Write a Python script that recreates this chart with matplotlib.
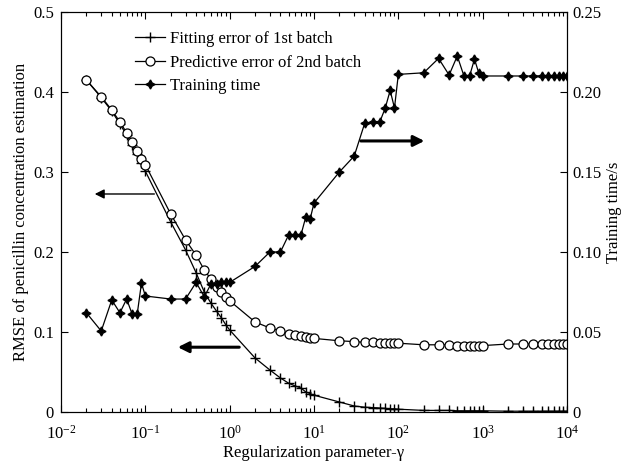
import matplotlib
matplotlib.use("Agg")
import matplotlib.pyplot as plt
from matplotlib.ticker import FixedLocator, FuncFormatter, LogLocator, NullFormatter

plt.rcParams["font.family"] = ["Liberation Serif", "DejaVu Serif"]
plt.rcParams["mathtext.fontset"] = "stix"

# regularization parameter grid: 2..9 x 1e-2, then 1..9 x 10^k, then 1e4
gamma = ([m * 0.01 for m in range(2, 10)] + [m * 0.1 for m in range(1, 10)]
         + [m * 1.0 for m in range(1, 10)] + [m * 10.0 for m in range(1, 10)]
         + [m * 100.0 for m in range(1, 10)] + [m * 1000.0 for m in range(1, 10)]
         + [10000.0])

fit_err = [0.415, 0.393, 0.376, 0.360, 0.346, 0.334, 0.322, 0.311,
           0.301, 0.2375, 0.2025, 0.174, 0.150, 0.136, 0.126, 0.1175, 0.109,
           0.1025, 0.0675, 0.0525, 0.0425, 0.036, 0.0325, 0.030, 0.025, 0.023,
           0.021, 0.0125, 0.0075, 0.006, 0.0055, 0.005, 0.0045, 0.004, 0.004,
           0.0035, 0.002, 0.002, 0.002, 0.0015, 0.0015, 0.0015, 0.0015, 0.0015,
           0.0015, 0.001, 0.001, 0.001, 0.001, 0.001, 0.001, 0.001, 0.001,
           0.001]

pred_err = [0.415, 0.394, 0.3775, 0.3625, 0.349, 0.338, 0.326, 0.316,
            0.309, 0.2475, 0.215, 0.196, 0.1775, 0.166, 0.156, 0.150, 0.144,
            0.139, 0.1125, 0.105, 0.1015, 0.098, 0.096, 0.095, 0.094, 0.093,
            0.092, 0.089, 0.088, 0.087, 0.087, 0.086, 0.086, 0.086, 0.086,
            0.086, 0.084, 0.084, 0.084, 0.083, 0.083, 0.083, 0.083, 0.083,
            0.083, 0.085, 0.085, 0.085, 0.085, 0.085, 0.085, 0.085, 0.085,
            0.085]

train_time = [0.062, 0.0506, 0.070, 0.062, 0.0706, 0.061, 0.061, 0.0806,
              0.0725, 0.0706, 0.0706, 0.081, 0.072, 0.080, 0.080, 0.081, 0.081,
              0.081, 0.091, 0.100, 0.100, 0.1106, 0.1106, 0.1106, 0.122, 0.1206,
              0.1306, 0.150, 0.160, 0.1806, 0.181, 0.181, 0.190, 0.201, 0.190,
              0.211, 0.212, 0.221, 0.2106, 0.2225, 0.210, 0.210, 0.2206, 0.2117,
              0.210, 0.210, 0.210, 0.210, 0.210, 0.210, 0.210, 0.210, 0.210,
              0.210]

fig = plt.figure(figsize=(6.25, 4.7), dpi=100)
ax = fig.add_axes([0.0976, 0.1234, 0.8096, 0.8511])
ax2 = ax.twinx()

l1, = ax.plot(gamma, fit_err, color="black", lw=0.9, marker="+", ms=7, mew=1.0,
              label="Fitting error of 1st batch")
l2, = ax.plot(gamma, pred_err, color="black", lw=0.9, marker="o", ms=6.5, mew=0.9,
              mfc="white", label="Predictive error of 2nd batch")
l3, = ax2.plot(gamma, train_time, color="black", lw=0.9, marker=(4, 1, 0), ms=6.5,
               label="Training time")

ax.set_xscale("log")
ax.set_xlim(1e-2, 1e4)
ax.set_ylim(0, 0.5)
ax2.set_ylim(0, 0.25)

ax.xaxis.set_major_locator(LogLocator(base=10, numticks=10))
ax.xaxis.set_minor_locator(LogLocator(base=10, subs=range(2, 10), numticks=20))
ax.xaxis.set_minor_formatter(NullFormatter())
ax.yaxis.set_major_locator(FixedLocator([0, 0.1, 0.2, 0.3, 0.4, 0.5]))
ax2.yaxis.set_major_locator(FixedLocator([0, 0.05, 0.10, 0.15, 0.20, 0.25]))
ax.yaxis.set_major_formatter(FuncFormatter(lambda v, p: "0" if v == 0 else "%.1f" % v))
ax2.yaxis.set_major_formatter(FuncFormatter(lambda v, p: "0" if v == 0 else "%.2f" % v))

ax.tick_params(axis="x", which="both", direction="in", top=True, labelsize=12, pad=9)
ax.tick_params(axis="x", which="major", length=5, width=0.8)
ax.tick_params(axis="x", which="minor", length=3, width=0.8)
ax.tick_params(axis="y", direction="in", labelsize=12, length=5, pad=5)
ax2.tick_params(axis="y", direction="in", labelsize=12, length=5, pad=4)

ax.set_xlabel("Regularization parameter-γ", fontsize=12, labelpad=2)
ax.set_ylabel("RMSE of penicillin concentration estimation", fontsize=12, labelpad=3)
ax2.set_ylabel("Training time/s", fontsize=12, labelpad=3)

ax.legend(handles=[l1, l2, l3], loc="upper left", bbox_to_anchor=(0.12, 0.985),
          frameon=False, fontsize=12, handlelength=1.8, handletextpad=0.3,
          labelspacing=0.45, borderpad=0.3)

arrow_thin = dict(arrowstyle="-|>", color="black", lw=1.0, mutation_scale=14)
arrow_thick = dict(arrowstyle="-|>", color="black", lw=2.2, mutation_scale=16)
ax.annotate("", xy=(0.0233, 0.2725), xytext=(0.138, 0.2725), arrowprops=arrow_thin)
ax.annotate("", xy=(0.225, 0.081), xytext=(1.40, 0.081), arrowprops=arrow_thick)
ax2.annotate("", xy=(220, 0.1694), xytext=(33.3, 0.1694), arrowprops=arrow_thick)

fig.savefig("out.png", dpi=100)
